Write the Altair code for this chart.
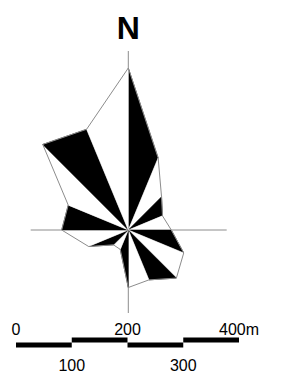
import altair as alt
import numpy as np
import pandas as pd

# Wind rose: 16 compass directions, frequency (%)
directions = ["N", "NNE", "NE", "ENE", "E", "ESE", "SE", "SSE",
              "S", "SSW", "SW", "WSW", "W", "WNW", "NW", "NNW"]
freq = [16.2, 7.8, 4.7, 3.7, 4.3, 6.0, 6.8, 5.4,
        5.75, 2.1, 2.1, 4.3, 6.66, 6.5, 12.1, 10.9]

# Cross-hair extents (same units as freq)
vline = [-8.3, 17.9]
hline = [-9.76, 9.84]

# Scale bar (metres)
bar_ticks = [0, 100, 200, 300, 400]
bar_levels = [0, 1, 0, 1]
labels_top = ["0", "200", "400m"]
labels_top_m = [0, 200, 400]
labels_bottom = ["100", "300"]
labels_bottom_m = [100, 300]

# ---- build tables ----
ang = np.deg2rad(np.arange(16) * 22.5)
vx = np.array(freq) * np.sin(ang)
vy = np.array(freq) * np.cos(ang)

tri_rows = []
for i in range(16):
    j = (i + 1) % 16
    shade = "black" if i % 2 == 0 else "white"
    pts = [(0.0, 0.0), (vx[i], vy[i]), (vx[j], vy[j]), (0.0, 0.0)]
    for k, (px, py) in enumerate(pts):
        tri_rows.append({"tri": directions[i], "k": k, "x": px, "y": py, "shade": shade})
tri_df = pd.DataFrame(tri_rows)

out_df = pd.DataFrame({
    "k": list(range(17)),
    "x": list(vx) + [vx[0]],
    "y": list(vy) + [vy[0]],
})

cross_df = pd.DataFrame({
    "x": [0.0, hline[0]], "x2": [0.0, hline[1]],
    "y": [vline[0], 0.0], "y2": [vline[1], 0.0],
})

seg_df = pd.DataFrame({
    "start": bar_ticks[:-1], "end": bar_ticks[1:], "level": bar_levels,
})
top_df = pd.DataFrame({"m": labels_top_m, "t": labels_top})
bot_df = pd.DataFrame({"m": labels_bottom_m, "t": labels_bottom})
n_df = pd.DataFrame({"x": [0.0], "y": [19.1], "t": ["N"]})

# ---- scales ----
def rx():
    return alt.Scale(domain=[-12.03, 15.07], nice=False, zero=False)

def ry():
    return alt.Scale(domain=[-14.4, 22.2], nice=False, zero=False)

def bx():
    return alt.Scale(domain=[0, 400], range=[8, 231], nice=False, zero=False)

shade_scale = alt.Scale(domain=["black", "white"], range=["black", "white"])

cross = alt.Chart(cross_df).mark_rule(color="#8c8c8c", strokeWidth=1).encode(
    x=alt.X("x:Q", scale=rx(), axis=None), x2="x2:Q",
    y=alt.Y("y:Q", scale=ry(), axis=None), y2="y2:Q",
)

tris = alt.Chart(tri_df).mark_line(filled=True, strokeWidth=0.6).encode(
    x=alt.X("x:Q", scale=rx(), axis=None),
    y=alt.Y("y:Q", scale=ry(), axis=None),
    detail="tri:N",
    order="k:Q",
    fill=alt.Fill("shade:N", scale=shade_scale, legend=None),
    stroke=alt.Stroke("shade:N", scale=shade_scale, legend=None),
)

outline = alt.Chart(out_df).mark_line(color="#8c8c8c", strokeWidth=1).encode(
    x=alt.X("x:Q", scale=rx(), axis=None),
    y=alt.Y("y:Q", scale=ry(), axis=None),
    order="k:Q",
)

ntext = alt.Chart(n_df).mark_text(
    font="Liberation Sans", fontSize=32, fontWeight="bold", baseline="alphabetic",
    align="center", color="black",
).encode(
    x=alt.X("x:Q", scale=rx(), axis=None),
    y=alt.Y("y:Q", scale=ry(), axis=None),
    text="t:N",
)

bar = alt.Chart(seg_df).mark_rule(color="black", strokeWidth=5, strokeCap="butt").encode(
    x=alt.X("start:Q", scale=bx(), axis=None), x2="end:Q",
    y=alt.Y("level:Q", scale=alt.Scale(domain=[0, 1], range=[337, 332]), axis=None),
)

top_lbl = alt.Chart(top_df).mark_text(
    font="Liberation Sans", fontSize=16, baseline="alphabetic", align="center", color="black",
).encode(
    x=alt.X("m:Q", scale=bx(), axis=None),
    y=alt.value(327),
    text="t:N",
)

bot_lbl = alt.Chart(bot_df).mark_text(
    font="Liberation Sans", fontSize=16, baseline="alphabetic", align="center", color="black",
).encode(
    x=alt.X("m:Q", scale=bx(), axis=None),
    y=alt.value(362.7),
    text="t:N",
)

chart = alt.layer(cross, tris, outline, ntext, bar, top_lbl, bot_lbl).resolve_scale(
    x="independent", y="independent", fill="independent", stroke="independent"
).properties(
    width=271, height=366, padding=0, background="white"
).configure_view(stroke=None)

chart.save("out.html", embed_options={"renderer": "svg", "actions": False})
